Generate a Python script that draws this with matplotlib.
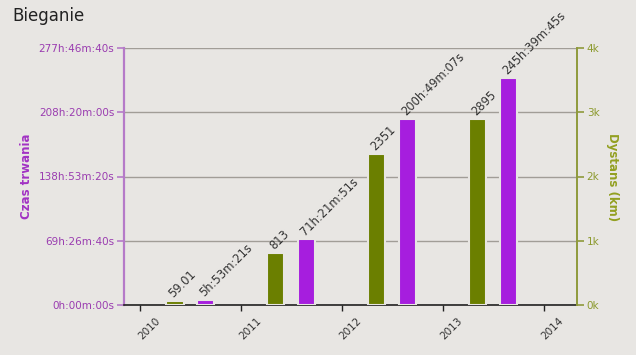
import matplotlib
matplotlib.use("Agg")
import matplotlib.pyplot as plt
from matplotlib.transforms import ScaledTranslation

# Running summary per year: distance (km) and total duration (seconds).
YEARS = [2010, 2011, 2012, 2013]
DIST_KM = [59.01, 813, 2351, 2895]
DIST_LABELS = ["59.01", "813", "2351", "2895"]
DUR_S = [5 * 3600 + 53 * 60 + 21, 71 * 3600 + 21 * 60 + 51,
         200 * 3600 + 49 * 60 + 7, 245 * 3600 + 39 * 60 + 45]
DUR_LABELS = ["5h:53m:21s", "71h:21m:51s", "200h:49m:07s", "245h:39m:45s"]
XTICKS = [2010, 2011, 2012, 2013, 2014]
DUR_TICKS = [0, 250000, 500000, 750000, 1000000]
DUR_TICK_LABELS = ["0h:00m:00s", "69h:26m:40s", "138h:53m:20s",
                   "208h:20m:00s", "277h:46m:40s"]
DIST_TICKS = [0, 1000, 2000, 3000, 4000]
DIST_TICK_LABELS = ["0k", "1k", "2k", "3k", "4k"]

BG = "#E8E6E3"
PURPLE = "#A61EDE"
PURPLE_TXT = "#9A3CB0"
PURPLE_AX = "#B57AC8"
GREEN = "#6B7F00"
GREEN_TXT = "#8C9A2E"
GREEN_AX = "#8F9A3C"
GRID = "#A19D97"
TXT = "#333333"

fig = plt.figure(figsize=(6.36, 3.55), dpi=100, facecolor=BG)
ax = fig.add_axes([124 / 636, 1 - 305 / 355, 453 / 636, 257 / 355])
ax2 = ax.twinx()
ax.set_facecolor(BG)
ax2.patch.set_visible(False)

w = 0.17
xg = [y + 0.345 for y in YEARS]
xp = [y + 0.65 for y in YEARS]

ax.set_xlim(2009.84, 2014.33)
ax.set_ylim(0, 1000000)
ax2.set_ylim(0, 4000)

for t in DUR_TICKS:
    ax.axhline(t, color=GRID, lw=1.0, zorder=1)

ax.bar(xp, DUR_S, w, color=PURPLE, edgecolor=BG, lw=1.5, zorder=3)
ax2.bar(xg, DIST_KM, w, color=GREEN, edgecolor=BG, lw=1.5, zorder=3)

for x, v, s in zip(xp, DUR_S, DUR_LABELS):
    ax.annotate(s, (x, v), xytext=(-1, 2), textcoords="offset points",
                rotation=45, rotation_mode="anchor", ha="left",
                va="baseline", fontsize=8.3, color=TXT)
for x, v, s in zip(xg, DIST_KM, DIST_LABELS):
    ax2.annotate(s, (x, v), xytext=(-1, 2), textcoords="offset points",
                 rotation=45, rotation_mode="anchor", ha="left",
                 va="baseline", fontsize=8.3, color=TXT)

# spines
for sp in ("top",):
    ax.spines[sp].set_visible(False)
    ax2.spines[sp].set_visible(False)
ax.spines["right"].set_visible(False)
ax2.spines["left"].set_visible(False)
ax2.spines["bottom"].set_visible(False)
ax.spines["left"].set_color(PURPLE_AX)
ax.spines["left"].set_linewidth(1.6)
ax2.spines["right"].set_color(GREEN_AX)
ax2.spines["right"].set_linewidth(1.4)
ax.spines["bottom"].set_color("#222222")
ax.spines["bottom"].set_linewidth(1.2)

ax.set_yticks(DUR_TICKS)
ax.set_yticklabels(DUR_TICK_LABELS)
ax.tick_params(axis="y", colors=PURPLE_AX, labelcolor=PURPLE_TXT,
               labelsize=7.5, length=5, width=1.2, pad=2)
ax2.set_yticks(DIST_TICKS)
ax2.set_yticklabels(DIST_TICK_LABELS)
ax2.tick_params(axis="y", colors=GREEN_AX, labelcolor=GREEN_TXT,
                labelsize=7.5, length=5, width=1.2, pad=2)

ax.set_xticks(XTICKS)
ax.set_xticklabels([str(y) for y in XTICKS])
ax.tick_params(axis="x", colors="#222222", labelcolor=TXT, labelsize=7.5,
               length=4, width=1, pad=4)
off = ScaledTranslation(9 / 100, 0, fig.dpi_scale_trans)
for lab in ax.get_xticklabels():
    lab.set_rotation(45)
    lab.set_ha("center")
    lab.set_va("top")
    lab.set_transform(lab.get_transform() + off)

fig.text(27 / 636, 1 - 176 / 355, "Czas trwania", rotation=90,
         ha="center", va="center", fontsize=8.5, fontweight="bold",
         color="#A232C4")
fig.text(612 / 636, 1 - 177 / 355, "Dystans (km)", rotation=-90,
         ha="center", va="center", fontsize=8.5, fontweight="bold",
         color="#93A021")
fig.text(12 / 636, 1 - 16 / 355, "Bieganie", ha="left", va="center",
         fontsize=12, color="#222222")

fig.savefig("out.png", dpi=100, facecolor=BG)
